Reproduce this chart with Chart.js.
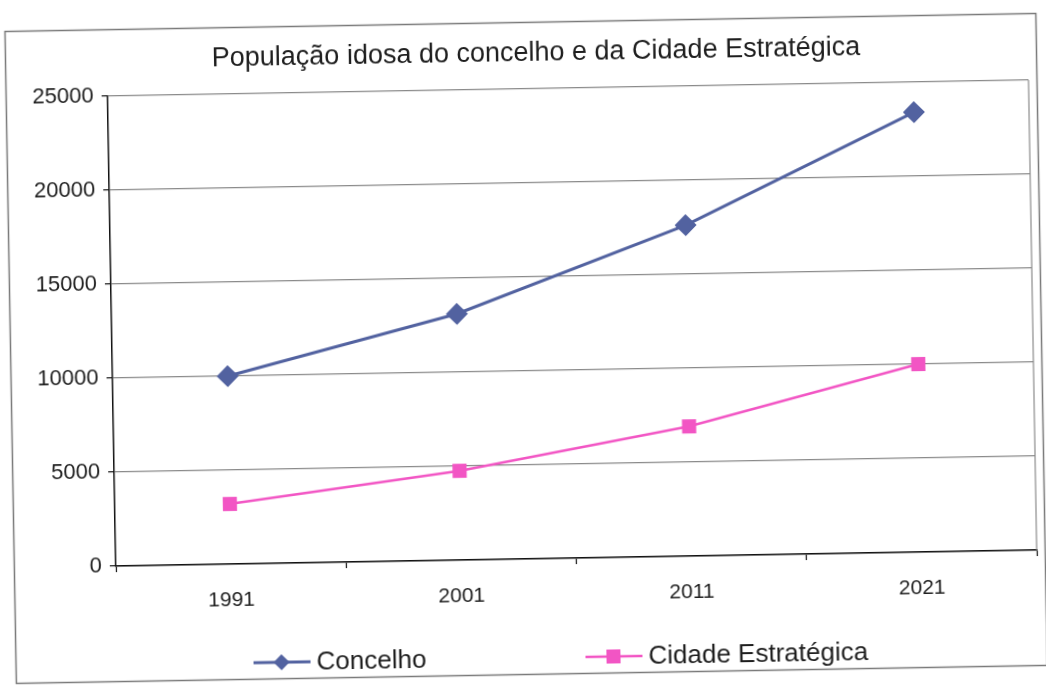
<!DOCTYPE html>
<html lang="pt">
<head>
<meta charset="utf-8">
<title>População idosa</title>
<script src="https://cdn.jsdelivr.net/npm/chart.js@4.4.1/dist/chart.umd.min.js"></script>
<style>
  html, body { margin: 0; padding: 0; background: #fff; overflow: hidden; }
  #wrap { width: 1046px; height: 686px; transform: rotate(-1deg); transform-origin: 523px 343px; }
</style>
</head>
<body>
<div id="wrap"><canvas id="chart" width="1046" height="686"></canvas></div>
<script>
// Values
const years = ['1991', '2001', '2011', '2021'];
const concelho = [10000, 13100, 17600, 23400];
const cidade = [3200, 4750, 6900, 10000];
const yTicks = [0, 5000, 10000, 15000, 20000, 25000];

const titleText = 'População idosa do concelho e da Cidade Estratégica';
const blue = '#5262a0';
const pink = '#f255c4';
const fontFamily = '"Liberation Sans", Arial, sans-serif';

// Outer frame, title, right edge of the plot and the line+marker legend
const decor = {
  id: 'decor',
  beforeDraw(chart) {
    const ctx = chart.ctx;
    ctx.save();
    ctx.fillStyle = '#fff';
    ctx.fillRect(0, 0, chart.width, chart.height);
    ctx.strokeStyle = '#7a7a7a';
    ctx.lineWidth = 1.5;
    ctx.strokeRect(10.5, 22.5, 1031, 652);
    ctx.restore();
  },
  beforeDatasetsDraw(chart) {
    const a = chart.chartArea;
    const ctx = chart.ctx;
    ctx.save();
    ctx.strokeStyle = '#8a8a8a';
    ctx.lineWidth = 1.2;
    ctx.beginPath();
    ctx.moveTo(a.right, a.top);
    ctx.lineTo(a.right, a.bottom);
    ctx.stroke();
    ctx.restore();
  },
  afterDraw(chart) {
    const ctx = chart.ctx;
    ctx.save();
    // title
    ctx.fillStyle = '#1e1e1e';
    ctx.font = '27px ' + fontFamily;
    ctx.textAlign = 'center';
    ctx.textBaseline = 'middle';
    ctx.fillText(titleText, 541, 54);

    // legend
    const y = 658;
    const items = [
      { x: 248, ds: chart.data.datasets[0] },
      { x: 580, ds: chart.data.datasets[1] }
    ];
    ctx.textAlign = 'left';
    items.forEach(function (it) {
      const ds = it.ds;
      ctx.strokeStyle = ds.borderColor;
      ctx.lineWidth = ds.borderWidth;
      ctx.beginPath();
      ctx.moveTo(it.x, y);
      ctx.lineTo(it.x + 57, y);
      ctx.stroke();
      const cx = it.x + 28;
      ctx.fillStyle = ds.pointBackgroundColor;
      ctx.beginPath();
      if (ds.pointStyle === 'rectRot') {
        ctx.moveTo(cx - 8, y);
        ctx.lineTo(cx, y - 8);
        ctx.lineTo(cx + 8, y);
        ctx.lineTo(cx, y + 8);
        ctx.closePath();
      } else {
        ctx.rect(cx - 7, y - 7, 14, 14);
      }
      ctx.fill();
      ctx.fillStyle = '#1e1e1e';
      ctx.font = '26px ' + fontFamily;
      ctx.fillText(ds.label, it.x + 63, y + 1);
    });
    ctx.restore();
  }
};

new Chart(document.getElementById('chart'), {
  type: 'line',
  data: {
    labels: years,
    datasets: [{
      label: 'Concelho',
      data: concelho,
      borderColor: blue,
      backgroundColor: blue,
      pointBackgroundColor: blue,
      pointBorderColor: blue,
      borderWidth: 3,
      pointStyle: 'rectRot',
      pointRadius: 11,
      pointBorderWidth: 0,
      tension: 0
    }, {
      label: 'Cidade Estratégica',
      data: cidade,
      borderColor: pink,
      backgroundColor: pink,
      pointBackgroundColor: pink,
      pointBorderColor: pink,
      borderWidth: 2.5,
      pointStyle: 'rect',
      pointRadius: 10,
      pointBorderWidth: 0,
      tension: 0
    }]
  },
  options: {
    responsive: false,
    animation: false,
    layout: {
      padding: { top: 89, right: 13, bottom: 77, left: 0 }
    },
    plugins: {
      legend: { display: false },
      tooltip: { enabled: false },
      title: { display: false }
    },
    scales: {
      x: {
        offset: true,
        afterFit: function (s) { s.height = 50; },
        border: { color: '#111', width: 1.5 },
        grid: { offset: true, drawOnChartArea: false, tickLength: 6, tickColor: '#111', tickWidth: 1.2 },
        ticks: {
          color: '#1e1e1e',
          padding: 18,
          font: { family: fontFamily, size: 21 }
        }
      },
      y: {
        min: 0,
        max: 25000,
        afterFit: function (s) { s.width = 112; },
        afterBuildTicks: function (s) { s.ticks = yTicks.map(v => ({ value: v })); },
        border: { color: '#111', width: 1.5 },
        grid: { color: '#8a8a8a', lineWidth: 1.2, tickLength: 6, tickColor: '#111' },
        ticks: {
          color: '#1e1e1e',
          padding: 8,
          callback: function (v) { return String(v); },
          font: { family: fontFamily, size: 22 }
        }
      }
    }
  },
  plugins: [decor]
});
</script>
</body>
</html>
